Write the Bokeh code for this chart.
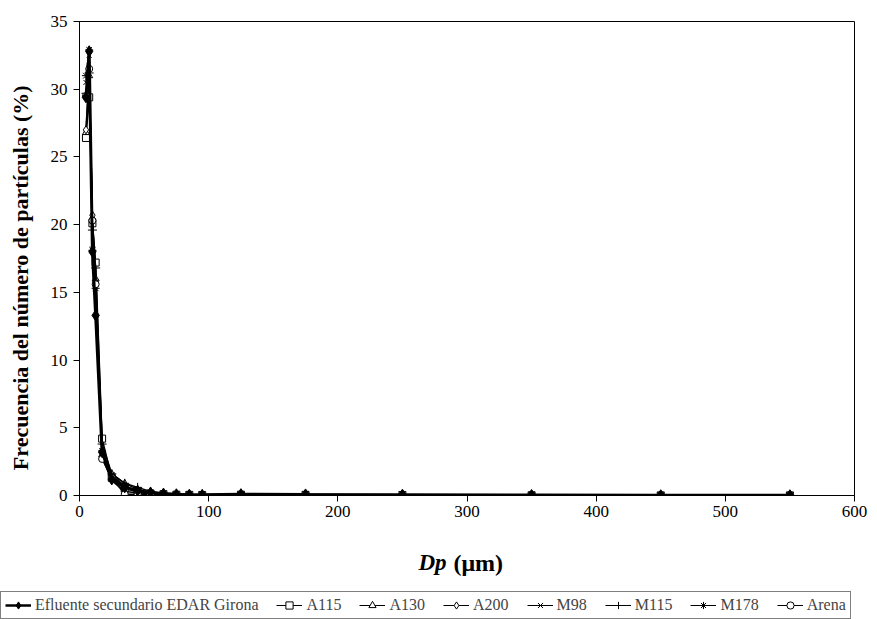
from bokeh.plotting import figure
from bokeh.layouts import column
from bokeh.models import Legend, LegendItem, Label, FixedTicker, Range1d
from bokeh.embed import file_html
from bokeh.resources import INLINE

# ---- data ----
dp = [5, 7.5, 10, 12.5, 17.5, 25, 35, 45, 55, 65, 75, 85, 95, 125, 175, 250, 350, 450, 550]
efluente = [29.4, 32.8, 18.0, 13.3, 3.2, 1.2, 0.6, 0.35, 0.22, 0.14, 0.09, 0.06, 0.05, 0.10, 0.08, 0.06, 0.04, 0.02, 0.02]
a115 = [26.4, 29.4, 20.1, 17.2, 4.2, 1.3, 0.5, 0.30, 0.15, 0.10, 0.06, 0.05, 0.04, 0.06, 0.05, 0.04, 0.02, 0.01, 0.01]
a130 = [26.8, 31.0, 20.5, 16.0, 3.0, 1.6, 0.9, 0.45, 0.20, 0.12, 0.08, 0.05, 0.04, 0.07, 0.06, 0.04, 0.02, 0.01, 0.01]
a200 = [27.0, 31.4, 20.7, 15.8, 2.8, 1.1, 0.3, 0.20, 0.12, 0.08, 0.05, 0.04, 0.03, 0.05, 0.04, 0.03, 0.02, 0.01, 0.01]
m98 = [30.5, 32.5, 18.2, 15.5, 2.9, 1.4, 0.6, 0.30, 0.18, 0.10, 0.07, 0.05, 0.04, 0.08, 0.07, 0.05, 0.03, 0.02, 0.01]
m115 = [29.7, 31.2, 19.6, 16.8, 3.8, 1.6, 0.9, 0.60, 0.30, 0.15, 0.10, 0.07, 0.05, 0.09, 0.07, 0.05, 0.03, 0.02, 0.01]
m178 = [31.0, 32.9, 18.1, 15.3, 3.3, 1.5, 0.7, 0.35, 0.20, 0.12, 0.08, 0.06, 0.05, 0.10, 0.08, 0.06, 0.04, 0.02, 0.01]
arena = [29.5, 31.5, 20.3, 15.6, 2.7, 1.3, 0.1, 0.10, 0.08, 0.06, 0.05, 0.04, 0.03, 0.05, 0.04, 0.03, 0.02, 0.01, 0.01]

series_names = ["Efluente secundario EDAR Girona", "A115", "A130", "A200", "M98", "M115", "M178", "Arena"]
series_values = [efluente, a115, a130, a200, m98, m115, m178, arena]
x_ticks = [0, 100, 200, 300, 400, 500, 600]
y_ticks = [0, 5, 10, 15, 20, 25, 30, 35]

FONT = "Liberation Serif"

markers = ["diamond", "square", "triangle", "diamond", "x", "cross", "asterisk", "circle"]
sizes = [11, 7, 7, 8, 7, 9, 8, 7]
fills = ["black", "white", "white", "white", None, None, None, "white"]
widths = [3, 1.5, 1.5, 1.5, 1.5, 1.5, 1.5, 1.5]

p = figure(width=877, height=530, output_backend="svg", toolbar_location=None,
           x_range=Range1d(0, 600), y_range=Range1d(0, 35),
           min_border_left=79, min_border_right=23, min_border_top=21, min_border_bottom=35)
p.grid.visible = False
p.outline_line_color = "black"
p.outline_line_width = 1
p.background_fill_color = "white"
p.border_fill_color = "white"

for ax in (p.xaxis[0], p.yaxis[0]):
    ax.axis_line_color = "black"
    ax.major_tick_line_color = "black"
    ax.minor_tick_line_color = None
    ax.major_tick_in = 0
    ax.major_tick_out = 6
    ax.major_label_text_font = FONT
    ax.major_label_text_font_size = "17px"
    ax.major_label_text_color = "black"

p.xaxis.ticker = FixedTicker(ticks=x_ticks)
p.yaxis.ticker = FixedTicker(ticks=y_ticks)
p.xaxis.major_label_standoff = 4
p.yaxis.major_label_standoff = 6

# trailing no-break spaces shift the visible title slightly downwards, as in the reference
p.yaxis.axis_label = "Frecuencia del número de partículas (%)" + "\u00a0" * 7
p.yaxis.axis_label_text_font = FONT
p.yaxis.axis_label_text_font_style = "bold"
p.yaxis.axis_label_text_font_size = "22px"
p.yaxis.axis_label_text_color = "black"
p.yaxis.axis_label_standoff = 15

order = list(range(1, 8)) + [0]
for i in order:
    ys = series_values[i]
    p.line(dp, ys, line_color="black", line_width=widths[i])
    p.scatter(dp, ys, marker=markers[i], size=sizes[i], line_color="black",
              line_width=1, fill_color=fills[i] if fills[i] else "black",
              fill_alpha=1 if fills[i] else 0)

# ---- lower strip: x-axis title and legend ----
p2 = figure(width=877, height=89, output_backend="svg", toolbar_location=None,
            x_range=Range1d(0, 600), y_range=Range1d(100, 101),
            x_axis_type=None, y_axis_type=None, min_border=0)
p2.grid.visible = False
p2.outline_line_color = None
p2.background_fill_color = "white"
p2.border_fill_color = "white"

shift = 79
if hasattr(p2, "frame_align"):
    p.frame_align = False
    p2.frame_align = False
    shift = 0

items = []
for i in range(8):
    ys = series_values[i]
    lr = p2.line(dp, ys, line_color="black", line_width=2.5 if i == 0 else 1)
    sr = p2.scatter(dp, ys, marker=markers[i], size=sizes[i] - 1, line_color="black",
                    line_width=1, fill_color=fills[i] if fills[i] else "black",
                    fill_alpha=1 if fills[i] else 0)
    items.append(LegendItem(label=series_names[i], renderers=[lr, sr]))

legend = Legend(items=items, orientation="horizontal", location=(0, 0),
                label_text_font=FONT, label_text_font_size="16px",
                glyph_width=26, glyph_height=18, label_height=18, label_standoff=4,
                spacing=18, padding=4, margin=0,
                border_line_color="black", border_line_width=1,
                background_fill_color="white", background_fill_alpha=1)
p2.add_layout(legend)

p2.add_layout(Label(x=446 - shift, y=57, x_units="screen", y_units="screen", text="Dp",
                    text_align="right", text_baseline="alphabetic", text_font=FONT,
                    text_font_style="bold italic", text_font_size="23px", text_color="black"))
p2.add_layout(Label(x=453 - shift, y=57, x_units="screen", y_units="screen", text="(μm)",
                    text_align="left", text_baseline="alphabetic", text_font=FONT,
                    text_font_style="bold", text_font_size="24px", text_color="black"))

layout = column(p, p2, spacing=0)
open("out.html", "w").write(file_html(layout, INLINE))
